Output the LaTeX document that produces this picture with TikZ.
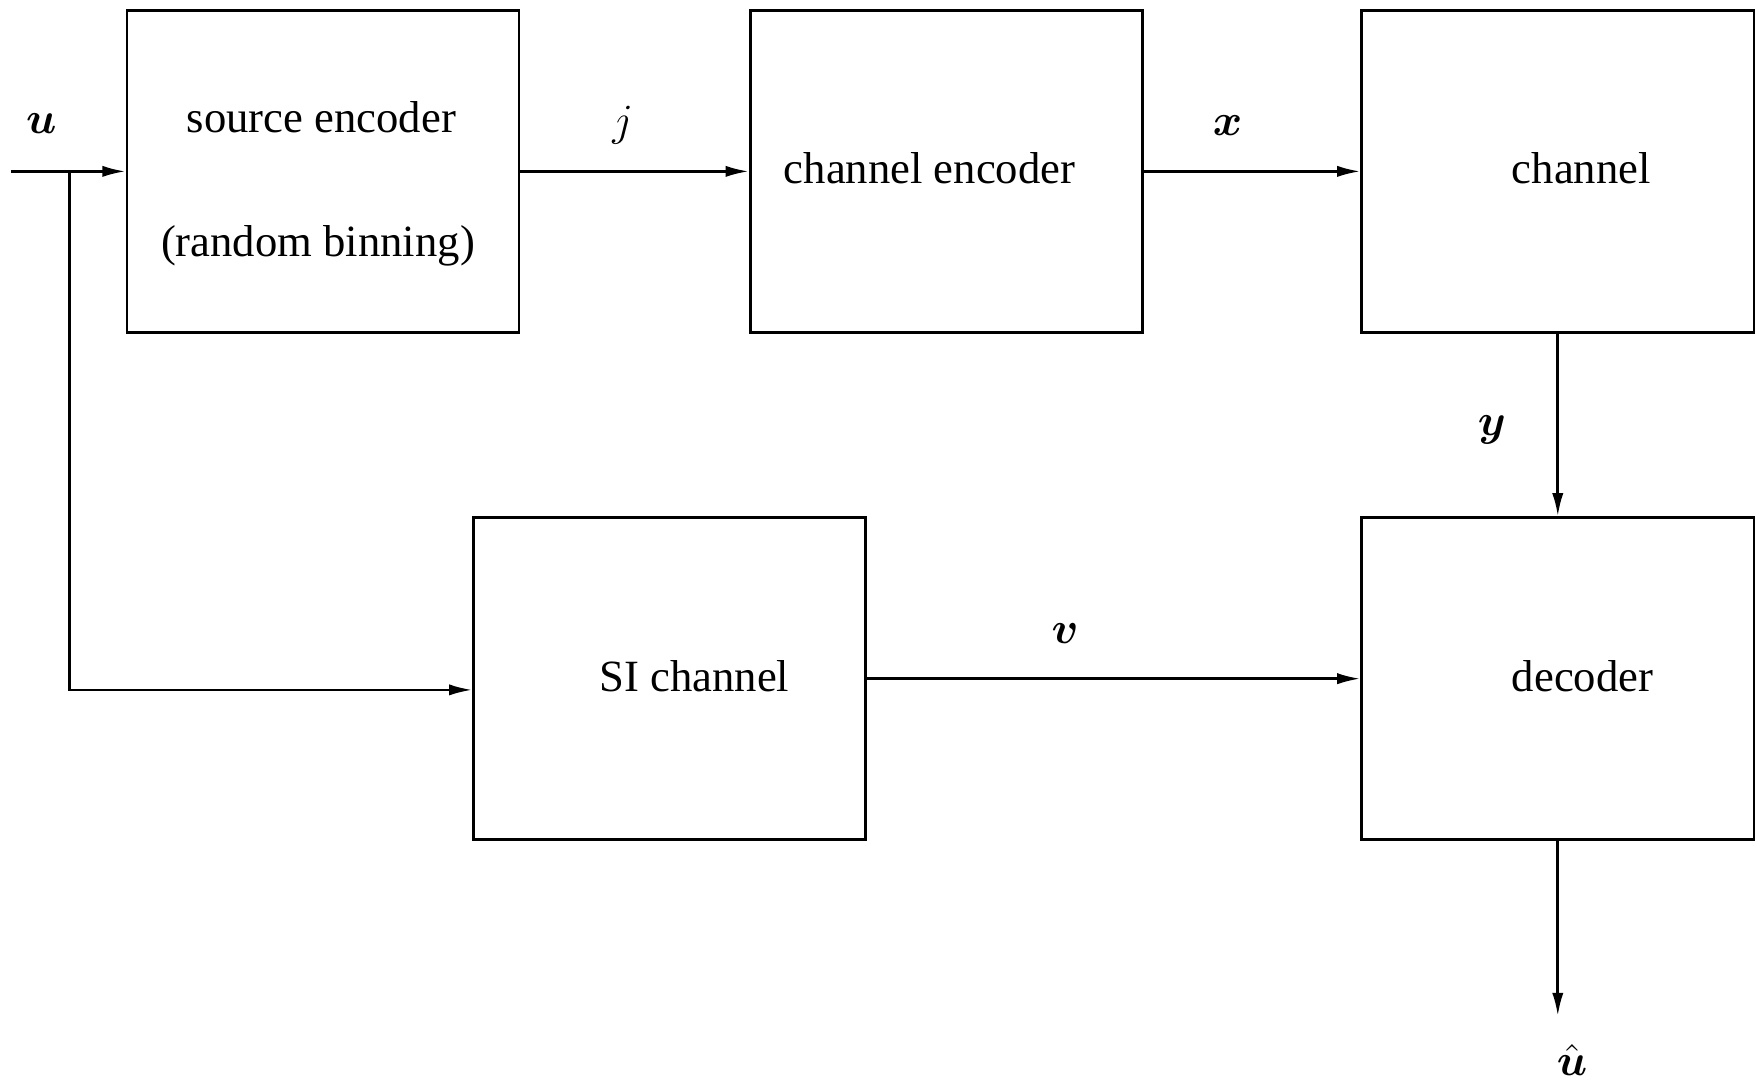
\documentclass[tikz,border=0pt]{standalone}
\usepackage{fix-cm}
\usepackage{amsmath}
\usepackage{fontspec}
\setmainfont{Liberation Serif}
\usetikzlibrary{arrows.meta}

\tikzset{
  block/.style={draw,line width=0.75pt,minimum width=3.92cm,minimum height=3.22cm,inner sep=0pt},
  arr/.style={line width=0.75pt,-{Latex[length=6.6pt,width=3.2pt]}},
  txt/.style={inner sep=0pt,font=\fontsize{12.7}{15}\selectfont}
}

\begin{document}
\begin{tikzpicture}[x=0.01cm,y=-0.01cm]
    \useasboundingbox (0,0) rectangle (1756,1083);
    % blocks
    \node[block] (srcenc) at (323,171.4) {};
    \node[block] (chenc) at (946.3,171.4) {};
    \node[block] (chan) at (1557.8,171.4) {};
    \node[block] (sich) at (669.7,678.7) {};
    \node[block] (dec) at (1557.8,678.7) {};
    % texts in the blocks
    \node[txt] (srcenctxt) at (321.4,117.6) {source encoder};
    \node[txt] (bintxt) at (318,246) {(random binning)};
    \node[txt] (chenctxt) at (929.6,168) {channel encoder};
    \node[txt] (chantxt) at (1581.4,168) {channel};
    \node[txt] (sichtxt) at (694.4,676.5) {SI channel};
    \node[txt] (dectxt) at (1582.6,676.5) {decoder};
    % signal labels
    \node[txt] (ulab) at (41.4,124) {$\boldsymbol{u}$};
    \node[txt] (jlab) at (622.7,125) {$j$};
    \node[txt] (xlab) at (1227.5,126) {$\boldsymbol{x}$};
    \node[txt] (ylab) at (1491.8,430) {$\boldsymbol{y}$};
    \node[txt] (vlab) at (1065,634) {$\boldsymbol{v}$};
    \node[txt] (uhatlab) at (1572,1060) {$\hat{\boldsymbol{u}}$};
    % connectors
    \coordinate (uin) at (11,171.4);
    \coordinate (split) at (69.4,171.4);
    \coordinate (uout) at (1557.8,1016);
    \draw[arr] (uin) -- (srcenc.west);
    \draw[arr] (split) |- ([yshift=-0.112cm]sich.west);
    \draw[arr] (srcenc.east) -- (chenc.west);
    \draw[arr] (chenc.east) -- (chan.west);
    \draw[arr] (chan.south) -- (dec.north);
    \draw[arr] (sich.east) -- (dec.west);
    \draw[arr] (dec.south) -- (uout);
\end{tikzpicture}
\end{document}
